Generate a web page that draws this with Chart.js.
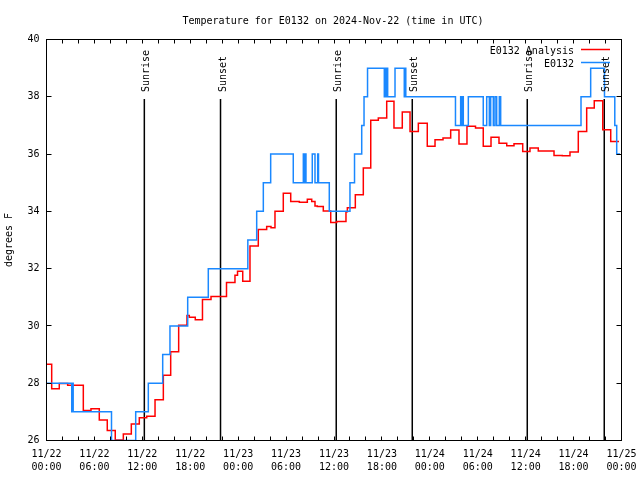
<!DOCTYPE html>
<html><head><meta charset="utf-8">
<script src="https://cdn.jsdelivr.net/npm/chart.js@4/dist/chart.umd.min.js"></script>
<style>html,body{margin:0;padding:0;background:#fff}#wrap{width:640px;height:480px;position:relative}</style>
</head><body><div id="wrap"><canvas id="c" width="640" height="480"></canvas></div>
<script>
// Hours since 2024-11-22 00:00 UTC where each step value begins
const analysisHours = [0.00,0.65,1.60,2.65,4.61,5.57,6.61,7.61,8.61,9.62,10.62,11.62,12.55,13.59,14.63,15.55,16.55,17.59,17.88,18.63,19.53,20.60,22.54,23.60,23.92,24.57,25.48,26.52,27.57,28.11,28.61,29.65,30.58,31.66,32.66,33.21,33.62,33.91,34.66,35.59,36.34,37.50,37.67,38.67,39.67,40.60,41.55,42.60,43.51,44.55,45.52,46.56,47.68,48.65,49.65,50.61,51.65,52.65,53.72,54.69,55.66,56.66,57.63,58.54,59.63,60.54,61.58,63.55,64.59,65.55,66.59,67.64,68.59,69.65,70.65,71.69];
const analysisTemps = [28.66,27.81,27.99,27.93,27.05,27.11,26.72,26.35,26.02,26.23,26.58,26.79,26.85,27.42,28.28,29.10,30.02,30.36,30.30,30.22,30.92,31.03,31.52,31.77,31.91,31.56,32.79,33.37,33.47,33.43,34.00,34.63,34.34,34.32,34.42,34.34,34.19,34.17,34.01,33.61,33.65,33.99,34.13,34.58,35.51,37.18,37.26,37.84,36.91,37.47,36.79,37.08,36.27,36.50,36.56,36.84,36.35,36.97,36.91,36.27,36.59,36.38,36.29,36.36,36.09,36.21,36.11,35.95,35.94,36.07,36.79,37.61,37.86,36.85,36.44,36.44];
const obsHours = [0.00,3.16,3.27,3.34,8.14,11.17,12.75,14.55,15.46,17.68,20.26,25.21,26.32,27.15,28.07,30.90,32.16,32.28,32.37,32.49,33.28,33.62,33.96,34.06,35.41,38.00,38.57,39.47,39.76,40.20,42.30,42.39,42.49,42.57,42.72,43.64,44.80,44.89,44.99,51.21,51.86,51.96,52.08,52.19,52.82,54.69,55.12,55.45,55.62,55.95,56.16,56.37,56.70,56.87,66.93,68.14,69.87,71.16,71.40,71.81];
const obsTemps = [28,27,28,27,26,27,28,29,30,31,32,33,34,35,36,35,36,35,36,35,36,35,36,35,34,35,36,37,38,39,38,39,38,39,38,39,38,39,38,37,38,37,38,37,38,37,38,37,38,37,38,37,38,37,38,39,38,37,36,36];
const sunriseHours = [12.25, 36.28, 60.20];
const sunsetHours = [21.79, 45.80, 69.84];
const dateLabels = ['11/22','11/22','11/22','11/22','11/23','11/23','11/23','11/23','11/24','11/24','11/24','11/24','11/25'];
const timeLabels = ['00:00','06:00','12:00','18:00','00:00','06:00','12:00','18:00','00:00','06:00','12:00','18:00','00:00'];
const yTickValues = [26,28,30,32,34,36,38,40];
const seriesNames = ['E0132 Analysis','E0132'];
const titleText = 'Temperature for E0132 on 2024-Nov-22 (time in UTC)';
const yTitle = 'degrees F';

const FONT = '10px "DejaVu Sans Mono"';
const RED = '#ff0000';
const BLUE = '#1a88ff';
Chart.defaults.font.family = '"DejaVu Sans Mono"';
Chart.defaults.font.size = 10;
Chart.defaults.color = '#000';

const toPts = (hs, vs) => hs.map((h, i) => ({x: h, y: vs[i]}));
const sunSets = [];
sunriseHours.forEach(h => sunSets.push({label:'Sunrise', data:[{x:h,y:26},{x:h,y:37.92}], borderColor:'#000', borderWidth:1.5, pointRadius:0, order:2}));
sunsetHours.forEach(h => sunSets.push({label:'Sunset', data:[{x:h,y:26},{x:h,y:37.92}], borderColor:'#000', borderWidth:1.5, pointRadius:0, order:2}));

const overlay = {
  id: 'overlay',
  afterDraw(chart) {
    const ctx = chart.ctx, a = chart.chartArea;
    const xs = chart.scales.x, ys = chart.scales.y;
    ctx.save();
    ctx.font = FONT; ctx.fillStyle = '#000';
    ctx.textAlign = 'center'; ctx.textBaseline = 'alphabetic';
    ctx.fillText(titleText, (a.left + a.right) / 2 - 1, 24);
    ctx.save(); ctx.translate(12, 240); ctx.rotate(-Math.PI / 2);
    ctx.textAlign = 'center'; ctx.fillText(yTitle, 0, 0); ctx.restore();
    const sunLabel = (h, txt) => {
      const x = xs.getPixelForValue(h);
      ctx.save(); ctx.translate(x + 5, 92); ctx.rotate(-Math.PI / 2);
      ctx.textAlign = 'left'; ctx.textBaseline = 'alphabetic';
      ctx.fillText(txt, 0, 0); ctx.restore();
    };
    sunriseHours.forEach(h => sunLabel(h, 'Sunrise'));
    sunsetHours.forEach(h => sunLabel(h, 'Sunset'));
    ctx.strokeStyle = '#000'; ctx.lineWidth = 1;
    ctx.strokeRect(a.left, a.top, a.right - a.left, a.bottom - a.top);
    ctx.beginPath();
    for (let v = 0; v <= 72; v += 2) {
      const x = Math.floor(xs.getPixelForValue(v)) + 0.5;
      const len = 4;
      ctx.moveTo(x, a.bottom); ctx.lineTo(x, a.bottom - len);
      ctx.moveTo(x, a.top); ctx.lineTo(x, a.top + len);
    }
    yTickValues.forEach(v => {
      const y = Math.floor(ys.getPixelForValue(v)) + 0.5;
      ctx.moveTo(a.left, y); ctx.lineTo(a.left + 5, y);
      ctx.moveTo(a.right, y); ctx.lineTo(a.right - 5, y);
    });
    ctx.stroke();
    ctx.textAlign = 'right'; ctx.textBaseline = 'alphabetic';
    const cols = [RED, BLUE];
    seriesNames.forEach((n, i) => {
      const yb = 53.5 + i * 13;
      ctx.fillStyle = '#000';
      ctx.fillText(n, 574, yb);
      ctx.strokeStyle = cols[i]; ctx.lineWidth = 1.5;
      ctx.beginPath(); ctx.moveTo(581, yb - 4); ctx.lineTo(610, yb - 4); ctx.stroke();
    });
    ctx.restore();
  }
};

new Chart(document.getElementById('c'), {
  type: 'line',
  data: {
    datasets: [
      {label: seriesNames[1], data: toPts(obsHours, obsTemps), borderColor: BLUE, borderWidth: 1.5, pointRadius: 0, stepped: 'before', fill: false, order: 0},
      {label: seriesNames[0], data: toPts(analysisHours, analysisTemps), borderColor: RED, borderWidth: 1.5, pointRadius: 0, stepped: 'before', fill: false, order: 1},
      ...sunSets
    ]
  },
  options: {
    responsive: false,
    animation: false,
    devicePixelRatio: 1,
    layout: {padding: {top: 39.5, right: 18.5, left: 0, bottom: 0}},
    plugins: {legend: {display: false}, title: {display: false}, tooltip: {enabled: false}},
    elements: {line: {tension: 0}},
    scales: {
      x: {
        type: 'linear', min: 0, max: 72,
        grid: {display: false, drawTicks: false},
        border: {display: false},
        afterBuildTicks: s => { s.ticks = dateLabels.map((_, i) => ({value: i * 6})); },
        afterFit: s => { s.height = 39.5; s.paddingLeft = 0; s.paddingRight = 0; },
        ticks: {
          autoSkip: false, maxRotation: 0, minRotation: 0, padding: 7,
          font: {size: 10, family: '"DejaVu Sans Mono"', lineHeight: 1.3},
          callback: v => { const i = Math.round(v / 6); return [dateLabels[i], timeLabels[i]]; }
        }
      },
      y: {
        type: 'linear', min: 26, max: 40,
        grid: {display: false, drawTicks: false},
        border: {display: false},
        afterBuildTicks: s => { s.ticks = yTickValues.map(v => ({value: v})); },
        afterFit: s => { s.width = 46.5; s.paddingTop = 0; s.paddingBottom = 0; },
        ticks: {padding: 7, font: {size: 10, family: '"DejaVu Sans Mono"'}, callback: v => String(v)}
      }
    }
  },
  plugins: [overlay]
});
</script></body></html>
